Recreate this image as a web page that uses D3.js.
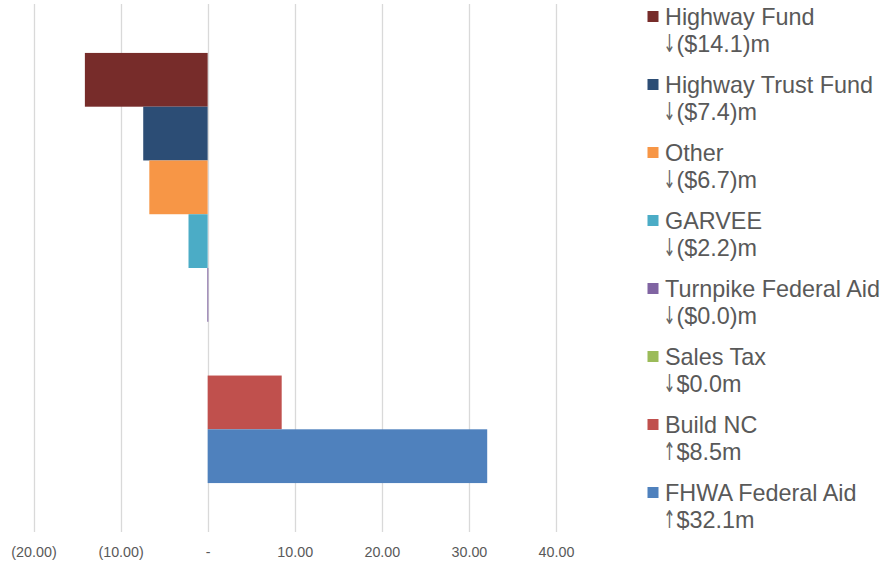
<!DOCTYPE html>
<html><head><meta charset="utf-8">
<script src="https://cdn.jsdelivr.net/npm/d3@7"></script>
<style>body{margin:0;background:#fff;font-family:"Liberation Sans",Arial,sans-serif;}</style>
</head><body><svg id="c" width="882" height="561"></svg>
<script>
const categories = ["Highway Fund","Highway Trust Fund","Other","GARVEE","Turnpike Federal Aid","Sales Tax","Build NC","FHWA Federal Aid"];
const values = [-14.1, -7.4, -6.7, -2.2, -0.04, 0.0, 8.5, 32.1];
const arrows = ["↓","↓","↓","↓","↓","↓","↑","↑"];
const changeLabels = ["($14.1)m","($7.4)m","($6.7)m","($2.2)m","($0.0)m","$0.0m","$8.5m","$32.1m"];
const colors = ["#772C2A","#2C4D75","#F79646","#4BACC6","#8064A2","#9BBB59","#C0504D","#4F81BD"];
const tickValues = [-20,-10,0,10,20,30,40];
const tickLabels = ["(20.00)","(10.00)","-","10.00","20.00","30.00","40.00"];

const svg = d3.select("#c");
const x = d3.scaleLinear().domain([-20,40]).range([33.5,556]);
const y = d3.scaleBand().domain(categories).range([4,532]).paddingOuter(0.91).paddingInner(0);

// gridlines
svg.append("g").selectAll("line").data(tickValues).join("line")
  .attr("x1",d=>Math.round(x(d))+0.5).attr("x2",d=>Math.round(x(d))+0.5)
  .attr("y1",4).attr("y2",532)
  .attr("stroke","#d9d9d9").attr("stroke-width",1.3);

// bars
svg.append("g").selectAll("rect").data(values).join("rect")
  .attr("x",(d)=>Math.min(x(0),x(d)))
  .attr("width",d=>Math.max(Math.abs(x(d)-x(0)), d<0&&d>-0.5?1:0))
  .attr("y",(d,i)=>y(categories[i]))
  .attr("height",y.bandwidth())
  .attr("fill",(d,i)=>colors[i]);

// axis
const axis = d3.axisBottom(x).tickValues(tickValues).tickFormat((d,i)=>tickLabels[i]).tickSize(0).tickPadding(0);
const ag = svg.append("g").attr("transform","translate(0,556.5)").call(axis);
ag.select(".domain").remove();
ag.attr("font-size",null).attr("font-family",null);
ag.selectAll("text").attr("fill","#595959").style("font-size","14.3px").style("font-family","'Liberation Sans',Arial,sans-serif").attr("dy",0).attr("y",0);

// legend
const lg = svg.append("g");
categories.forEach((c,i)=>{
  const by = 25 + i*68;
  lg.append("rect").attr("x",647.5).attr("y",by-14).attr("width",11).attr("height",11).attr("fill",colors[i]);
  lg.append("text").attr("x",665).attr("y",by).text(c)
    .attr("fill","#595959").style("font-size","23.4px");
  lg.append("text").attr("transform",`translate(663.5,${by+27}) scale(0.62,1.05)`)
    .style("font-family","'DejaVu Sans'").style("font-size","23.4px")
    .attr("fill","#666666").text(arrows[i]);
  lg.append("text").attr("x",676.5).attr("y",by+27)
    .attr("fill","#595959").style("font-size","23.4px").text(changeLabels[i]);
});
</script></body></html>
